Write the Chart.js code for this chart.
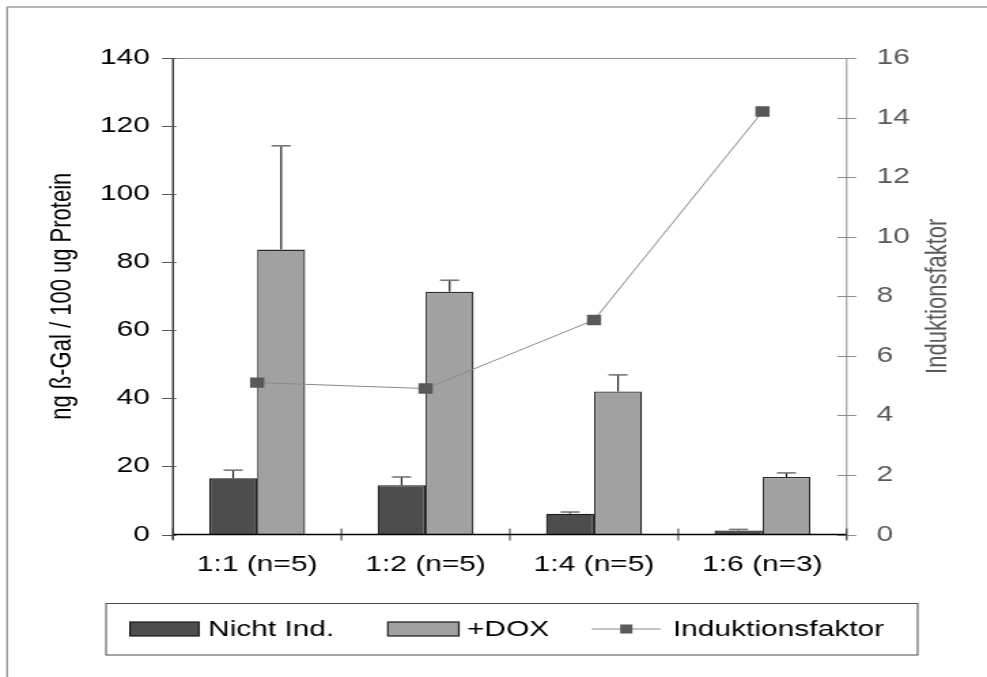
<!DOCTYPE html>
<html>
<head>
<meta charset="utf-8">
<script src="https://cdn.jsdelivr.net/npm/chart.js@4.4.1/dist/chart.umd.min.js"></script>
<style>
  html, body { margin: 0; padding: 0; background: #fff; overflow: hidden; }
  /* the figure is laid out narrow and widened horizontally */
  #wrap { width: 726px; height: 677px; transform: scaleX(1.3595); transform-origin: 0 0; }
</style>
</head>
<body>
<div id="wrap"><canvas id="c" width="726" height="677"></canvas></div>
<script>
// Verdünnungsstufen
const categories = ['1:1 (n=5)', '1:2 (n=5)', '1:4 (n=5)', '1:6 (n=3)'];

// ng ß-Gal / 100 ug Protein (Mittelwert und Standardabweichung)
const nichtInd   = [16.5, 14.5, 6.1, 1.2];
const nichtIndSD = [2.4, 2.4, 0.5, 0.3];
const dox        = [83.7, 71.3, 42.0, 16.9];
const doxSD      = [30.5, 3.4, 4.9, 1.2];

// Induktionsfaktor (rechte Achse)
const induktionsfaktor = [5.1, 4.9, 7.2, 14.2];

// Achsenbereiche
const leftTicks  = { min: 0, max: 140, step: 20 };
const rightTicks = { min: 0, max: 16, step: 2 };

const FONT = '"Liberation Sans", Arial, Helvetica, sans-serif';
const errorBars = [nichtIndSD, doxSD];

// axes, frame, error bars, right title and boxed legend
const decorations = {
  id: 'decorations',
  afterDatasetsDraw(chart) {
    const { ctx, chartArea: a, scales } = chart;
    const y = scales.y, y1 = scales.y1, x = scales.x;
    ctx.save();

    // outer frame (left and top edge)
    ctx.strokeStyle = '#6e6e6e';
    ctx.lineWidth = 1;
    ctx.beginPath();
    ctx.moveTo(5.2, 677); ctx.lineTo(5.2, 7); ctx.lineTo(726, 7);
    ctx.stroke();

    // plot frame top + right axis (grey)
    ctx.strokeStyle = '#8c8c8c';
    ctx.lineWidth = 1;
    ctx.beginPath();
    ctx.moveTo(a.left, a.top + 0.5); ctx.lineTo(a.right, a.top + 0.5);
    ctx.moveTo(a.right, a.top); ctx.lineTo(a.right, a.bottom + 5);
    y1.ticks.forEach(t => {
      const py = Math.round(y1.getPixelForValue(t.value)) + 0.5;
      ctx.moveTo(a.right - 7, py); ctx.lineTo(a.right + 7, py);
    });
    ctx.stroke();

    // left axis (black) with ticks
    ctx.strokeStyle = '#000';
    ctx.lineWidth = 1.1;
    ctx.beginPath();
    ctx.moveTo(a.left, a.top); ctx.lineTo(a.left, a.bottom + 5);
    ctx.stroke();
    ctx.strokeStyle = '#555';
    ctx.beginPath();
    y.ticks.forEach(t => {
      const py = Math.round(y.getPixelForValue(t.value)) + 0.5;
      ctx.moveTo(a.left - 8, py); ctx.lineTo(a.left + 2.5, py);
    });
    ctx.stroke();

    // category axis with boundary ticks
    ctx.strokeStyle = '#000';
    ctx.lineWidth = 1.4;
    ctx.beginPath();
    ctx.moveTo(a.left, a.bottom); ctx.lineTo(a.right, a.bottom);
    ctx.stroke();
    ctx.strokeStyle = '#333';
    ctx.lineWidth = 1;
    ctx.beginPath();
    for (let i = 0; i <= categories.length; i++) {
      const px = x.getPixelForValue(i - 0.5);
      ctx.moveTo(px, a.bottom - 6); ctx.lineTo(px, a.bottom + 6);
    }
    ctx.stroke();

    // error bars (upper half only)
    errorBars.forEach((sd, di) => {
      const meta = chart.getDatasetMeta(di);
      const vals = chart.data.datasets[di].data;
      meta.data.forEach((bar, i) => {
        const top = y.getPixelForValue(vals[i] + sd[i]);
        ctx.strokeStyle = '#111';
        ctx.lineWidth = 1.1;
        ctx.beginPath();
        ctx.moveTo(bar.x, bar.y); ctx.lineTo(bar.x, top);
        ctx.stroke();
        ctx.strokeStyle = '#777';
        ctx.lineWidth = 1.6;
        ctx.beginPath();
        ctx.moveTo(bar.x - 7, top); ctx.lineTo(bar.x + 7, top);
        ctx.stroke();
      });
    });

    // right axis title, reading bottom to top
    ctx.save();
    ctx.translate(690, (a.top + a.bottom) / 2);
    ctx.rotate(-Math.PI / 2);
    ctx.fillStyle = '#595959';
    ctx.font = '22px ' + FONT;
    ctx.textAlign = 'center';
    ctx.textBaseline = 'middle';
    ctx.fillText(scales.y1.options.title.text, 0, 0);
    ctx.restore();

    // legend box
    ctx.strokeStyle = '#4a4a4a';
    ctx.lineWidth = 1;
    ctx.strokeRect(78, 603.5, 597, 51.5);
    const slots = [
      { sx: 95.6, sw: 50.7, tx: 153 },
      { sx: 285.3, sw: 52.2, tx: 343.4 },
      { sx: 435.3, sw: 50.7, tx: 495 }
    ];
    const ly = 629;
    ctx.font = '22px ' + FONT;
    ctx.textBaseline = 'middle';
    ctx.textAlign = 'left';
    chart.data.datasets.forEach((ds, i) => {
      const s = slots[i];
      if (ds.type === 'line') {
        ctx.strokeStyle = ds.borderColor;
        ctx.lineWidth = 1;
        ctx.beginPath();
        ctx.moveTo(s.sx, ly); ctx.lineTo(s.sx + s.sw, ly);
        ctx.stroke();
        ctx.fillStyle = ds.pointBackgroundColor;
        ctx.fillRect(s.sx + s.sw / 2 - 4.5, ly - 4.5, 9, 9);
      } else {
        ctx.fillStyle = ds.backgroundColor;
        ctx.fillRect(s.sx, ly - 7, s.sw, 14);
        ctx.strokeStyle = '#1a1a1a';
        ctx.lineWidth = 1.2;
        ctx.strokeRect(s.sx, ly - 7, s.sw, 14);
      }
      ctx.fillStyle = '#000';
      ctx.fillText(ds.label, s.tx, ly + 1);
    });

    ctx.restore();
  }
};

new Chart(document.getElementById('c'), {
  type: 'bar',
  data: {
    labels: categories,
    datasets: [
      {
        label: 'Nicht Ind.',
        data: nichtInd,
        yAxisID: 'y',
        backgroundColor: '#4d4d4d',
        borderColor: '#1a1a1a',
        borderWidth: 1.3,
        categoryPercentage: 0.57,
        barPercentage: 1.0,
        order: 1
      },
      {
        label: '+DOX',
        data: dox,
        yAxisID: 'y',
        backgroundColor: '#a1a1a1',
        borderColor: '#2b2b2b',
        borderWidth: 1.3,
        categoryPercentage: 0.57,
        barPercentage: 1.0,
        order: 1
      },
      {
        type: 'line',
        label: 'Induktionsfaktor',
        data: induktionsfaktor,
        yAxisID: 'y1',
        borderColor: '#8a8a8a',
        borderWidth: 1,
        pointStyle: 'rect',
        pointRadius: 7.4,
        pointBackgroundColor: '#595959',
        pointBorderColor: '#595959',
        pointBorderWidth: 0,
        tension: 0,
        order: 0
      }
    ]
  },
  options: {
    responsive: false,
    devicePixelRatio: 1,
    animation: false,
    layout: { padding: { top: 58, left: 0, right: 0, bottom: 0 } },
    plugins: { legend: { display: false }, tooltip: { enabled: false } },
    scales: {
      x: {
        grid: { display: false, drawTicks: false },
        border: { display: false },
        ticks: { color: '#000', font: { family: FONT, size: 22 }, padding: 17, maxRotation: 0, autoSkip: false },
        afterFit: s => { s.height = 142.5; }
      },
      y: {
        position: 'left',
        min: leftTicks.min, max: leftTicks.max,
        grid: { display: false, drawTicks: false },
        border: { display: false },
        ticks: { stepSize: leftTicks.step, color: '#000', font: { family: FONT, size: 22 }, padding: 17 },
        title: {
          display: true,
          text: 'ng ß-Gal / 100 ug Protein',
          color: '#000',
          font: { family: FONT, size: 22 },
          padding: { top: 33, bottom: 0 }
        },
        afterFit: s => { s.width = 127.2; }
      },
      y1: {
        position: 'right',
        min: rightTicks.min, max: rightTicks.max,
        grid: { display: false, drawTicks: false },
        border: { display: false },
        ticks: { stepSize: rightTicks.step, color: '#595959', font: { family: FONT, size: 22 }, padding: 22 },
        title: { display: false, text: 'Induktionsfaktor' },
        afterFit: s => { s.width = 103.2; }
      }
    }
  },
  plugins: [decorations]
});
</script>
</body>
</html>
